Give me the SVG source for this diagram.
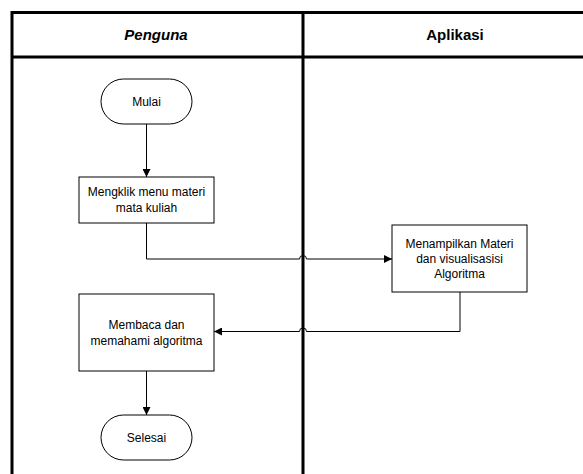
<svg xmlns="http://www.w3.org/2000/svg" width="583" height="474" viewBox="0 0 583 474">
<style>
.lane{fill:none;stroke:#000;stroke-width:3}
.shape{fill:#fff;stroke:#000;stroke-width:1}
.conn{fill:none;stroke:#000;stroke-width:1}
.t{font-family:"Liberation Sans",Arial,sans-serif;font-size:12px;fill:#000;text-anchor:middle}
.h{font-family:"Liberation Sans",Arial,sans-serif;font-size:15px;font-weight:bold;fill:#000;text-anchor:middle}
</style>
<defs>
<marker id="arr" viewBox="0 0 10 10" refX="10" refY="5" markerWidth="8" markerHeight="8" markerUnits="userSpaceOnUse" orient="auto">
<path d="M0,0 L10,5 L0,10 z" fill="#000"/>
</marker>
</defs>
<rect width="583" height="474" fill="#fff"/>
<g id="lanes">
<path class="lane" d="M12,474 V12.5 H583 M12,57 H583 M303,12.5 V474"/>
<text class="h" x="156" y="40" font-style="italic">Penguna</text>
<text class="h" x="455" y="40">Aplikasi</text>
</g>
<g id="connectors">
<path class="conn" d="M146.5,124 V177" marker-end="url(#arr)"/>
<path class="conn" d="M146.5,223 V259 H299.5 A3.5,3.5 0 0 1 306.5,259 H392" marker-end="url(#arr)"/>
<path class="conn" d="M460,292 V331.5 H306.5 A3.5,3.5 0 0 0 299.5,331.5 H214" marker-end="url(#arr)"/>
<path class="conn" d="M146.5,371 V415" marker-end="url(#arr)"/>
</g>
<g id="mulai">
<rect class="shape" x="101" y="79" width="91" height="45" rx="22.5" ry="22.5"/>
<text class="t" x="146.5" y="105.5">Mulai</text>
</g>
<g id="mengklik">
<rect class="shape" x="79" y="177" width="135" height="46"/>
<text class="t" x="146.5" y="196">Mengklik menu materi</text>
<text class="t" x="146.5" y="212">mata kuliah</text>
</g>
<g id="menampilkan">
<rect class="shape" x="392" y="225" width="135" height="67"/>
<text class="t" x="459.5" y="247.5">Menampilkan Materi</text>
<text class="t" x="459.5" y="262.5">dan visualisasisi</text>
<text class="t" x="459.5" y="277.5">Algoritma</text>
</g>
<g id="membaca">
<rect class="shape" x="79" y="294" width="135" height="77"/>
<text class="t" x="146.5" y="328.5">Membaca dan</text>
<text class="t" x="146.5" y="345">memahami algoritma</text>
</g>
<g id="selesai">
<rect class="shape" x="101" y="415" width="91" height="45" rx="22.5" ry="22.5"/>
<text class="t" x="146.5" y="441.5">Selesai</text>
</g>
</svg>
